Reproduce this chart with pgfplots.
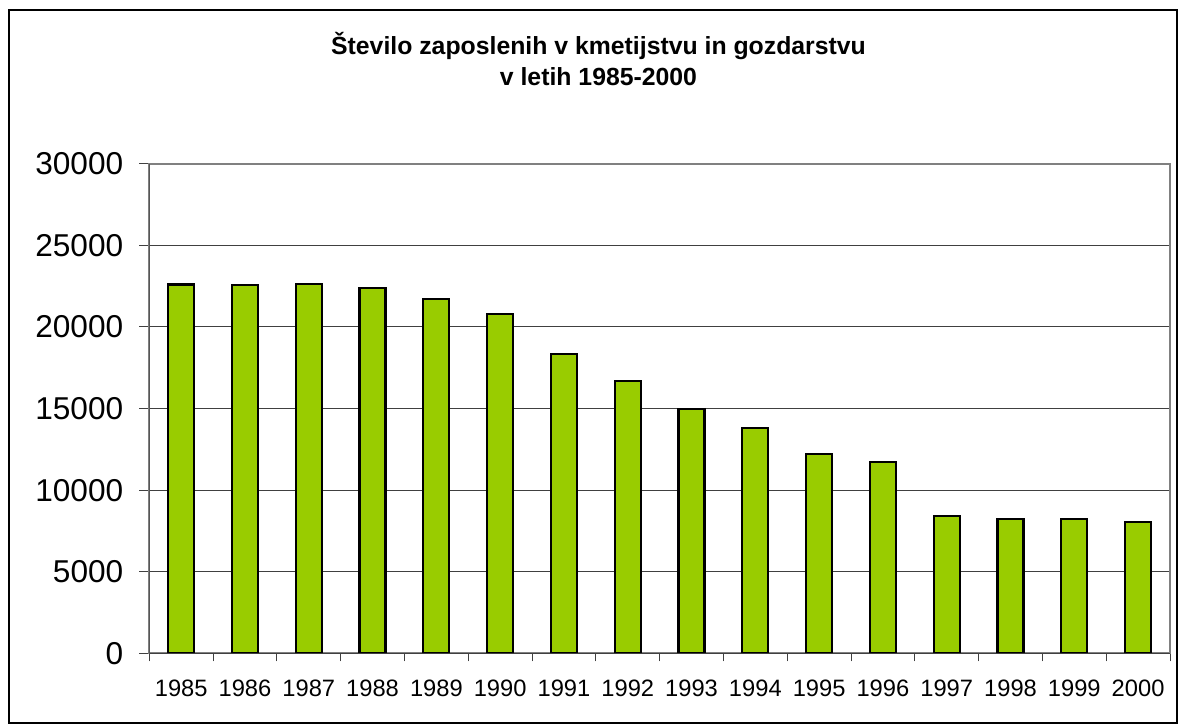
\documentclass[border=0pt]{standalone}
\usepackage{fontspec}
\setmainfont{Liberation Sans}
\usepackage{pgfplots}
\pgfplotsset{compat=1.18}
\definecolor{bargreen}{RGB}{153,204,0}
\definecolor{gridgray}{RGB}{64,64,64}
\definecolor{boxgray}{RGB}{128,128,128}
\begin{document}
\begin{tikzpicture}
\useasboundingbox (0,0) rectangle (589.5pt,-363pt);
\draw[black, line width=0.6pt] (4.5pt,-5pt) rectangle (588.5pt,-361.5pt);
\node[align=center, font=\bfseries\fontsize{12.4}{15.5}\selectfont] at (299.25pt,-29.5pt) {Število zaposlenih v kmetijstvu in gozdarstvu\\v letih 1985-2000};
\begin{axis}[
  at={(74.65pt,-326.75pt)}, anchor=south west,
  scale only axis, width=510.35pt, height=244.9pt,
  xmin=-0.5, xmax=15.5, ymin=0, ymax=30000,
  ybar, bar width=13pt, bar shift=0pt,
  xtick={0,...,15},
  xticklabels={1985,1986,1987,1988,1989,1990,1991,1992,1993,1994,1995,1996,1997,1998,1999,2000},
  major x tick style={draw=none},
  minor xtick={-0.5,0.5,...,15.5},
  minor tick length=4pt,
  ytick={0,5000,...,30000},
  scaled y ticks=false,
  major tick length=5pt,
  tick align=outside,
  xtick pos=bottom, ytick pos=left,
  tick style={gridgray, line width=0.5pt},
  ymajorgrids, grid style={gridgray, line width=0.5pt},
  axis line style={boxgray, line width=1pt},
  /pgf/number format/assume math mode=true,
  /pgf/number format/set thousands separator={},
  yticklabel style={font=\fontsize{15.8}{18}\selectfont, xshift=-4.5pt},
  xticklabel style={font=\fontsize{11.85}{14}\selectfont, yshift=-4.5pt},
]
\addplot[fill=bargreen, draw=black, line width=1.1pt] coordinates {
(0,22600) (1,22550) (2,22610) (3,22370) (4,21700) (5,20780) (6,18330) (7,16680)
(8,14960) (9,13800) (10,12210) (11,11720) (12,8400) (13,8230) (14,8230) (15,8030)
};
\draw[gridgray, line width=1pt] (rel axis cs:0,0) -- (rel axis cs:0,1);
\draw[gridgray, line width=0.7pt] (rel axis cs:0,0) -- (rel axis cs:1,0);
\end{axis}
\end{tikzpicture}
\end{document}
